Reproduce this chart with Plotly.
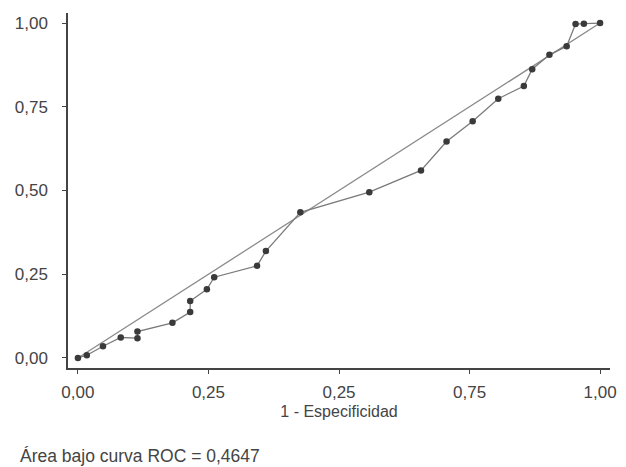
import plotly.graph_objects as go

# ROC curve points (1 - especificidad, sensibilidad)
fpr = [0.0, 0.017, 0.048, 0.082, 0.114, 0.114, 0.181, 0.215, 0.215, 0.247, 0.261,
       0.343, 0.360, 0.426, 0.558, 0.657, 0.706, 0.756, 0.805, 0.854, 0.870,
       0.903, 0.936, 0.953, 0.969, 1.0]
tpr = [0.0, 0.008, 0.035, 0.061, 0.059, 0.079, 0.105, 0.137, 0.170, 0.205, 0.241,
       0.275, 0.319, 0.435, 0.495, 0.560, 0.646, 0.707, 0.774, 0.812, 0.862,
       0.905, 0.931, 0.997, 0.998, 1.0]
diag = [0.0, 1.0]

x_tickvals = [0.0, 0.25, 0.5, 0.75, 1.0]
x_ticktext = ["0,00", "0,25", "0,25", "0,75", "1,00"]
y_tickvals = [0.0, 0.25, 0.5, 0.75, 1.0]
y_ticktext = ["0,00", "0,25", "0,50", "0,75", "1,00"]

font_family = "Liberation Sans, Arial, sans-serif"

fig = go.Figure()
fig.add_trace(go.Scatter(x=diag, y=diag, mode="lines",
                         line=dict(color="#8a8a8a", width=1.3),
                         showlegend=False, hoverinfo="skip"))
fig.add_trace(go.Scatter(x=fpr, y=tpr, mode="lines+markers",
                         line=dict(color="#7a7a7a", width=1.3),
                         marker=dict(symbol="circle", size=6.5, color="#3a3a3a"),
                         showlegend=False))

fig.update_layout(
    width=626, height=467,
    margin=dict(l=68, r=16, t=13, b=99),
    paper_bgcolor="white", plot_bgcolor="white",
    font=dict(family=font_family, color="#444444", size=17),
    xaxis=dict(range=[-0.019, 1.019], tickvals=x_tickvals, ticktext=x_ticktext,
               showgrid=False, zeroline=False, showline=True, linecolor="#444",
               linewidth=1.5, ticks="outside", ticklen=4, tickcolor="#444",
               tickfont=dict(size=17), ticklabelstandoff=4, automargin=False,
               title=dict(text="1 - Especificidad", font=dict(size=16), standoff=5)),
    yaxis=dict(range=[-0.030, 1.030], tickvals=y_tickvals, ticktext=y_ticktext,
               showgrid=False, zeroline=False, showline=True, linecolor="#444",
               linewidth=1.5, ticks="outside", ticklen=4, tickcolor="#444",
               tickfont=dict(size=17), ticklabelstandoff=11, automargin=False),
    annotations=[dict(text="Área bajo curva ROC = 0,4647", xref="paper", yref="paper",
                      x=-0.0923, y=-0.248, xanchor="left", yanchor="middle",
                      showarrow=False, font=dict(size=17.5, color="#444444"))],
)

fig.write_html("out.html")
